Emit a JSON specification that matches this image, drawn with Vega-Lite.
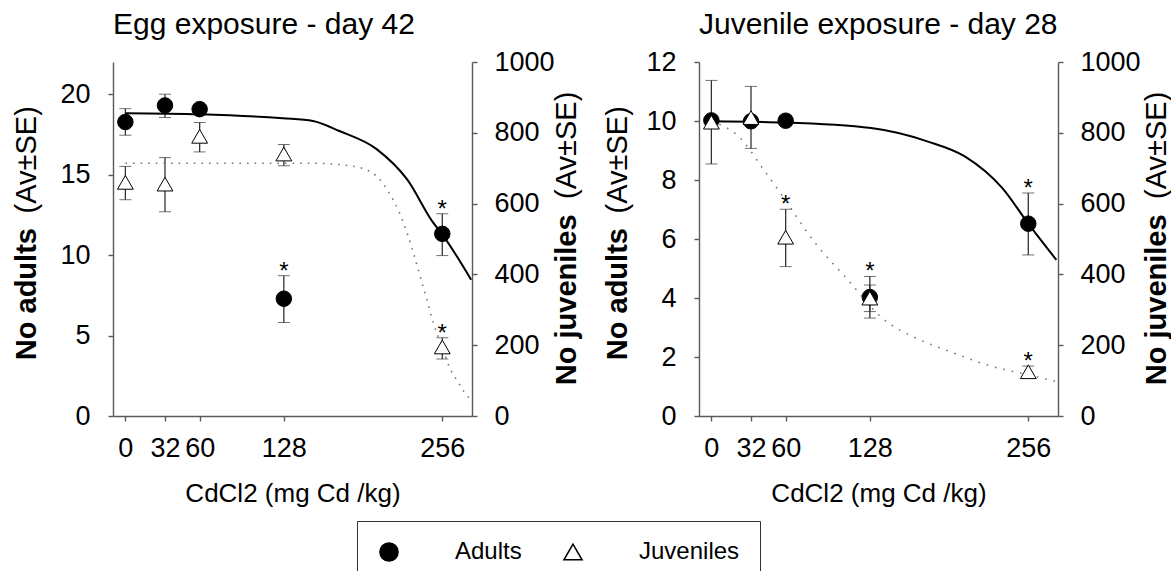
{
  "$schema": "https://vega.github.io/schema/vega-lite/v6.json",
  "background": "white",
  "autosize": {"type": "pad"},
  "padding": {"left": 12, "top": 10, "right": 0, "bottom": 0},
  "datasets": {
    "eggAdultFit": [
      {"dose": 0, "value": 18.82}, {"dose": 60, "value": 18.75}, {"dose": 127, "value": 18.5},
      {"dose": 151.5, "value": 18.34}, {"dose": 172.8, "value": 17.71}, {"dose": 203.2, "value": 16.57},
      {"dose": 227.6, "value": 14.7}, {"dose": 248.8, "value": 12.0}, {"dose": 255.5, "value": 11.34},
      {"dose": 279.3, "value": 8.47}
    ],
    "eggJuvFit": [
      {"dose": 0, "value": 714}, {"dose": 150, "value": 714}, {"dose": 185, "value": 705},
      {"dose": 191, "value": 700}, {"dose": 203, "value": 677}, {"dose": 212.4, "value": 634},
      {"dose": 221.5, "value": 573}, {"dose": 227.6, "value": 517}, {"dose": 233.6, "value": 450},
      {"dose": 239.7, "value": 375}, {"dose": 243, "value": 335}, {"dose": 248.8, "value": 262},
      {"dose": 256, "value": 195}, {"dose": 261, "value": 144}, {"dose": 268.6, "value": 97},
      {"dose": 278, "value": 50}, {"dose": 280, "value": 45}
    ],
    "eggPoints": [
      {"dose": 0, "series": "Adults", "mean": 18.27, "lo": 17.45, "hi": 19.1, "sig": ""},
      {"dose": 32, "series": "Adults", "mean": 19.3, "lo": 18.55, "hi": 20.0, "sig": ""},
      {"dose": 60, "series": "Adults", "mean": 19.07, "lo": 18.9, "hi": 19.25, "sig": ""},
      {"dose": 128, "series": "Adults", "mean": 7.29, "lo": 5.81, "hi": 8.72, "sig": "*"},
      {"dose": 256, "series": "Adults", "mean": 11.32, "lo": 9.97, "hi": 12.57, "sig": "*"},
      {"dose": 0, "series": "Juveniles", "mean": 660, "lo": 611, "hi": 705, "sig": ""},
      {"dose": 32, "series": "Juveniles", "mean": 655, "lo": 577, "hi": 730, "sig": ""},
      {"dose": 60, "series": "Juveniles", "mean": 790, "lo": 746, "hi": 829, "sig": ""},
      {"dose": 128, "series": "Juveniles", "mean": 740, "lo": 707, "hi": 767, "sig": ""},
      {"dose": 256, "series": "Juveniles", "mean": 195, "lo": 161, "hi": 221, "sig": "*"}
    ],
    "juvAdultFit": [
      {"dose": 0, "value": 9.99}, {"dose": 59.5, "value": 9.95}, {"dose": 129.1, "value": 9.76},
      {"dose": 174.4, "value": 9.31}, {"dose": 204.7, "value": 8.8}, {"dose": 234.9, "value": 7.73},
      {"dose": 256, "value": 6.52}, {"dose": 278.7, "value": 5.29}
    ],
    "juvJuvFit": [
      {"dose": 0, "value": 833}, {"dose": 23.3, "value": 785}, {"dose": 41.4, "value": 700},
      {"dose": 59.5, "value": 611}, {"dose": 83.7, "value": 489}, {"dose": 107.9, "value": 394},
      {"dose": 138.2, "value": 276}, {"dose": 168.4, "value": 215}, {"dose": 192.6, "value": 182},
      {"dose": 222.8, "value": 144}, {"dose": 256, "value": 116}, {"dose": 278.7, "value": 97}
    ],
    "juvPoints": [
      {"dose": 0, "series": "Adults", "mean": 10.02, "lo": 9.9, "hi": 10.1, "sig": ""},
      {"dose": 32, "series": "Adults", "mean": 9.99, "lo": 9.9, "hi": 10.1, "sig": ""},
      {"dose": 60, "series": "Adults", "mean": 10.01, "lo": 9.9, "hi": 10.1, "sig": ""},
      {"dose": 128, "series": "Adults", "mean": 4.03, "lo": 3.32, "hi": 4.73, "sig": "*"},
      {"dose": 256, "series": "Adults", "mean": 6.52, "lo": 5.46, "hi": 7.56, "sig": "*"},
      {"dose": 0, "series": "Juveniles", "mean": 830, "lo": 712, "hi": 948, "sig": ""},
      {"dose": 32, "series": "Juveniles", "mean": 843, "lo": 756, "hi": 931, "sig": ""},
      {"dose": 60, "series": "Juveniles", "mean": 505, "lo": 422, "hi": 584, "sig": "*"},
      {"dose": 128, "series": "Juveniles", "mean": 333, "lo": 295, "hi": 370, "sig": ""},
      {"dose": 256, "series": "Juveniles", "mean": 125, "lo": 109, "hi": 141, "sig": "*"}
    ]
  },
  "hconcat": [
    {
      "title": {"text": "Egg exposure - day 42"},
      "width": 359,
      "height": 354,
      "resolve": {"scale": {"y": "independent"}},
      "layer": [
        {
          "data": {"name": "eggPoints"},
          "transform": [{"filter": "datum.series === 'Adults'"}],
          "layer": [
            {
              "mark": {"type": "errorbar", "ticks": {"size": 12, "color": "#333333", "strokeWidth": 1.3}, "rule": {"color": "#333333", "strokeWidth": 1.3}},
              "encoding": {
                "x": {"field": "dose", "type": "quantitative", "scale": {"domain": [-10, 280], "nice": false, "zero": false}, "axis": {"values": [0, 32, 60, 128, 256], "title": "CdCl2 (mg Cd /kg)", "titleY": 85, "titleBaseline": "alphabetic"}},
                "y": {"field": "lo", "type": "quantitative", "scale": {"domain": [0, 22], "nice": false}, "axis": {"orient": "left", "domain": false, "ticks": false, "labels": false, "title": "(Av±SE)", "titleFontWeight": "normal", "titleAlign": "right", "titleX": -77.6, "titleY": 43.7}},
                "y2": {"field": "hi"}
              }
            },
            {
              "mark": {"type": "text", "fontSize": 24, "baseline": "alphabetic", "dy": 3, "color": "black"},
              "encoding": {
                "x": {"field": "dose", "type": "quantitative", "scale": {"domain": [-10, 280], "nice": false, "zero": false}, "axis": {"values": [0, 32, 60, 128, 256], "title": "CdCl2 (mg Cd /kg)", "titleY": 85, "titleBaseline": "alphabetic"}},
                "y": {"field": "hi", "type": "quantitative", "scale": {"domain": [0, 22], "nice": false}, "axis": {"orient": "left", "domain": false, "ticks": false, "labels": false, "title": "(Av±SE)", "titleFontWeight": "normal", "titleAlign": "right", "titleX": -77.6, "titleY": 43.7}},
                "text": {"field": "sig"}
              }
            }
          ]
        },
        {
          "data": {"name": "eggPoints"},
          "transform": [{"filter": "datum.series === 'Juveniles'"}],
          "layer": [
            {
              "mark": {"type": "errorbar", "ticks": {"size": 12, "color": "#333333", "strokeWidth": 1.3}, "rule": {"color": "#333333", "strokeWidth": 1.3}},
              "encoding": {
                "x": {"field": "dose", "type": "quantitative", "scale": {"domain": [-10, 280], "nice": false, "zero": false}, "axis": {"values": [0, 32, 60, 128, 256], "title": "CdCl2 (mg Cd /kg)", "titleY": 85, "titleBaseline": "alphabetic"}},
                "y": {"field": "lo", "type": "quantitative", "scale": {"domain": [0, 1000], "nice": false}, "axis": {"orient": "right", "domain": false, "ticks": false, "labels": false, "title": "(Av±SE)", "titleFontWeight": "normal", "titleAlign": "right", "titleX": 103, "titleY": 29.2}},
                "y2": {"field": "hi"}
              }
            },
            {
              "mark": {"type": "text", "fontSize": 24, "baseline": "alphabetic", "dy": 3, "color": "black"},
              "encoding": {
                "x": {"field": "dose", "type": "quantitative", "scale": {"domain": [-10, 280], "nice": false, "zero": false}, "axis": {"values": [0, 32, 60, 128, 256], "title": "CdCl2 (mg Cd /kg)", "titleY": 85, "titleBaseline": "alphabetic"}},
                "y": {"field": "hi", "type": "quantitative", "scale": {"domain": [0, 1000], "nice": false}, "axis": {"orient": "right", "domain": false, "ticks": false, "labels": false, "title": "(Av±SE)", "titleFontWeight": "normal", "titleAlign": "right", "titleX": 103, "titleY": 29.2}},
                "text": {"field": "sig"}
              }
            }
          ]
        },
        {
          "layer": [
            {
              "data": {"name": "eggAdultFit"},
              "mark": {"type": "line", "color": "black", "strokeWidth": 2, "interpolate": "monotone"},
              "encoding": {
                "x": {"field": "dose", "type": "quantitative", "scale": {"domain": [-10, 280], "nice": false, "zero": false}, "axis": {"values": [0, 32, 60, 128, 256], "title": "CdCl2 (mg Cd /kg)", "titleY": 85, "titleBaseline": "alphabetic"}},
                "y": {"field": "value", "type": "quantitative", "scale": {"domain": [0, 22], "nice": false}, "axis": {"orient": "left", "values": [0, 5, 10, 15, 20], "format": "d", "title": "No adults", "titleFontWeight": "bold", "titleAlign": "left", "titleX": -77.6, "titleY": 297.7}}
              }
            },
            {
              "data": {"name": "eggPoints"},
              "transform": [{"filter": "datum.series === 'Adults'"}],
              "mark": {"type": "point", "filled": true, "size": 240, "stroke": "black", "strokeWidth": 1, "opacity": 1},
              "encoding": {
                "x": {"field": "dose", "type": "quantitative", "scale": {"domain": [-10, 280], "nice": false, "zero": false}, "axis": {"values": [0, 32, 60, 128, 256], "title": "CdCl2 (mg Cd /kg)", "titleY": 85, "titleBaseline": "alphabetic"}},
                "y": {"field": "mean", "type": "quantitative", "scale": {"domain": [0, 22], "nice": false}, "axis": {"orient": "left", "values": [0, 5, 10, 15, 20], "format": "d", "title": "No adults", "titleFontWeight": "bold", "titleAlign": "left", "titleX": -77.6, "titleY": 297.7}},
                "shape": {"field": "series", "type": "nominal", "scale": {"domain": ["Adults", "Juveniles"], "range": ["circle", "triangle-up"]}, "legend": {
                  "orient": "none", "legendX": 244, "legendY": 459, "direction": "horizontal", "title": null,
                  "strokeColor": "#333333", "fillColor": "white", "padding": 20, "clipHeight": 22,
                  "labelFontSize": 24, "labelColor": "black", "labelOffset": 54, "columnPadding": 39,
                  "symbolSize": 330,
                  "encode": {"symbols": {
                    "fill": {"value": {"expr": "datum.value === 'Adults' ? 'black' : 'white'"}},
                    "stroke": {"value": "#222222"},
                    "strokeWidth": {"value": 1},
                    "opacity": {"value": 1}
                  }}
                }},
                "fill": {"field": "series", "type": "nominal", "scale": {"domain": ["Adults", "Juveniles"], "range": ["black", "white"]}, "legend": null}
              }
            }
          ]
        },
        {
          "layer": [
            {
              "data": {"name": "eggJuvFit"},
              "mark": {"type": "line", "color": "#777777", "strokeWidth": 1.6, "strokeDash": [1.6, 6], "interpolate": "monotone"},
              "encoding": {
                "x": {"field": "dose", "type": "quantitative", "scale": {"domain": [-10, 280], "nice": false, "zero": false}, "axis": {"values": [0, 32, 60, 128, 256], "title": "CdCl2 (mg Cd /kg)", "titleY": 85, "titleBaseline": "alphabetic"}},
                "y": {"field": "value", "type": "quantitative", "scale": {"domain": [0, 1000], "nice": false}, "axis": {"orient": "right", "values": [0, 200, 400, 600, 800, 1000], "format": "d", "title": "No juveniles", "titleFontWeight": "bold", "titleAlign": "left", "titleX": 103, "titleY": 322.7}}
              }
            },
            {
              "data": {"name": "eggPoints"},
              "transform": [{"filter": "datum.series === 'Juveniles'"}],
              "mark": {"type": "point", "filled": true, "size": 250, "stroke": "black", "strokeWidth": 1, "opacity": 1},
              "encoding": {
                "x": {"field": "dose", "type": "quantitative", "scale": {"domain": [-10, 280], "nice": false, "zero": false}, "axis": {"values": [0, 32, 60, 128, 256], "title": "CdCl2 (mg Cd /kg)", "titleY": 85, "titleBaseline": "alphabetic"}},
                "y": {"field": "mean", "type": "quantitative", "scale": {"domain": [0, 1000], "nice": false}, "axis": {"orient": "right", "values": [0, 200, 400, 600, 800, 1000], "format": "d", "title": "No juveniles", "titleFontWeight": "bold", "titleAlign": "left", "titleX": 103, "titleY": 322.7}},
                "shape": {"field": "series", "type": "nominal", "scale": {"domain": ["Adults", "Juveniles"], "range": ["circle", "triangle-up"]}},
                "fill": {"field": "series", "type": "nominal", "scale": {"domain": ["Adults", "Juveniles"], "range": ["black", "white"]}, "legend": null}
              }
            }
          ]
        }
      ]
    },
    {
      "title": {"text": "Juvenile exposure - day 28"},
      "width": 359,
      "height": 354,
      "resolve": {"scale": {"y": "independent"}},
      "layer": [
        {
          "data": {"name": "juvPoints"},
          "transform": [{"filter": "datum.series === 'Adults'"}],
          "layer": [
            {
              "mark": {"type": "errorbar", "ticks": {"size": 12, "color": "#333333", "strokeWidth": 1.3}, "rule": {"color": "#333333", "strokeWidth": 1.3}},
              "encoding": {
                "x": {"field": "dose", "type": "quantitative", "scale": {"domain": [-10, 280], "nice": false, "zero": false}, "axis": {"values": [0, 32, 60, 128, 256], "title": "CdCl2 (mg Cd /kg)", "titleY": 85, "titleBaseline": "alphabetic"}},
                "y": {"field": "lo", "type": "quantitative", "scale": {"domain": [0, 12], "nice": false}, "axis": {"orient": "left", "domain": false, "ticks": false, "labels": false, "title": "(Av±SE)", "titleFontWeight": "normal", "titleAlign": "right", "titleX": -72.3, "titleY": 43.7}},
                "y2": {"field": "hi"}
              }
            },
            {
              "mark": {"type": "text", "fontSize": 24, "baseline": "alphabetic", "dy": 3, "color": "black"},
              "encoding": {
                "x": {"field": "dose", "type": "quantitative", "scale": {"domain": [-10, 280], "nice": false, "zero": false}, "axis": {"values": [0, 32, 60, 128, 256], "title": "CdCl2 (mg Cd /kg)", "titleY": 85, "titleBaseline": "alphabetic"}},
                "y": {"field": "hi", "type": "quantitative", "scale": {"domain": [0, 12], "nice": false}, "axis": {"orient": "left", "domain": false, "ticks": false, "labels": false, "title": "(Av±SE)", "titleFontWeight": "normal", "titleAlign": "right", "titleX": -72.3, "titleY": 43.7}},
                "text": {"field": "sig"}
              }
            }
          ]
        },
        {
          "data": {"name": "juvPoints"},
          "transform": [{"filter": "datum.series === 'Juveniles'"}],
          "layer": [
            {
              "mark": {"type": "errorbar", "ticks": {"size": 12, "color": "#333333", "strokeWidth": 1.3}, "rule": {"color": "#333333", "strokeWidth": 1.3}},
              "encoding": {
                "x": {"field": "dose", "type": "quantitative", "scale": {"domain": [-10, 280], "nice": false, "zero": false}, "axis": {"values": [0, 32, 60, 128, 256], "title": "CdCl2 (mg Cd /kg)", "titleY": 85, "titleBaseline": "alphabetic"}},
                "y": {"field": "lo", "type": "quantitative", "scale": {"domain": [0, 1000], "nice": false}, "axis": {"orient": "right", "domain": false, "ticks": false, "labels": false, "title": "(Av±SE)", "titleFontWeight": "normal", "titleAlign": "right", "titleX": 107, "titleY": 29.2}},
                "y2": {"field": "hi"}
              }
            },
            {
              "mark": {"type": "text", "fontSize": 24, "baseline": "alphabetic", "dy": 3, "color": "black"},
              "encoding": {
                "x": {"field": "dose", "type": "quantitative", "scale": {"domain": [-10, 280], "nice": false, "zero": false}, "axis": {"values": [0, 32, 60, 128, 256], "title": "CdCl2 (mg Cd /kg)", "titleY": 85, "titleBaseline": "alphabetic"}},
                "y": {"field": "hi", "type": "quantitative", "scale": {"domain": [0, 1000], "nice": false}, "axis": {"orient": "right", "domain": false, "ticks": false, "labels": false, "title": "(Av±SE)", "titleFontWeight": "normal", "titleAlign": "right", "titleX": 107, "titleY": 29.2}},
                "text": {"field": "sig"}
              }
            }
          ]
        },
        {
          "layer": [
            {
              "data": {"name": "juvAdultFit"},
              "mark": {"type": "line", "color": "black", "strokeWidth": 2, "interpolate": "monotone"},
              "encoding": {
                "x": {"field": "dose", "type": "quantitative", "scale": {"domain": [-10, 280], "nice": false, "zero": false}, "axis": {"values": [0, 32, 60, 128, 256], "title": "CdCl2 (mg Cd /kg)", "titleY": 85, "titleBaseline": "alphabetic"}},
                "y": {"field": "value", "type": "quantitative", "scale": {"domain": [0, 12], "nice": false}, "axis": {"orient": "left", "values": [0, 2, 4, 6, 8, 10, 12], "format": "d", "title": "No adults", "titleFontWeight": "bold", "titleAlign": "left", "titleX": -72.3, "titleY": 297.7}}
              }
            },
            {
              "data": {"name": "juvPoints"},
              "transform": [{"filter": "datum.series === 'Adults'"}],
              "mark": {"type": "point", "filled": true, "size": 240, "stroke": "black", "strokeWidth": 1, "opacity": 1},
              "encoding": {
                "x": {"field": "dose", "type": "quantitative", "scale": {"domain": [-10, 280], "nice": false, "zero": false}, "axis": {"values": [0, 32, 60, 128, 256], "title": "CdCl2 (mg Cd /kg)", "titleY": 85, "titleBaseline": "alphabetic"}},
                "y": {"field": "mean", "type": "quantitative", "scale": {"domain": [0, 12], "nice": false}, "axis": {"orient": "left", "values": [0, 2, 4, 6, 8, 10, 12], "format": "d", "title": "No adults", "titleFontWeight": "bold", "titleAlign": "left", "titleX": -72.3, "titleY": 297.7}},
                "shape": {"field": "series", "type": "nominal", "scale": {"domain": ["Adults", "Juveniles"], "range": ["circle", "triangle-up"]}},
                "fill": {"field": "series", "type": "nominal", "scale": {"domain": ["Adults", "Juveniles"], "range": ["black", "white"]}, "legend": null}
              }
            }
          ]
        },
        {
          "layer": [
            {
              "data": {"name": "juvJuvFit"},
              "mark": {"type": "line", "color": "#777777", "strokeWidth": 1.6, "strokeDash": [1.6, 7], "interpolate": "monotone"},
              "encoding": {
                "x": {"field": "dose", "type": "quantitative", "scale": {"domain": [-10, 280], "nice": false, "zero": false}, "axis": {"values": [0, 32, 60, 128, 256], "title": "CdCl2 (mg Cd /kg)", "titleY": 85, "titleBaseline": "alphabetic"}},
                "y": {"field": "value", "type": "quantitative", "scale": {"domain": [0, 1000], "nice": false}, "axis": {"orient": "right", "values": [0, 200, 400, 600, 800, 1000], "format": "d", "title": "No juveniles", "titleFontWeight": "bold", "titleAlign": "left", "titleX": 107, "titleY": 322.7}}
              }
            },
            {
              "data": {"name": "juvPoints"},
              "transform": [{"filter": "datum.series === 'Juveniles'"}],
              "mark": {"type": "point", "filled": true, "size": 250, "stroke": "black", "strokeWidth": 1, "opacity": 1},
              "encoding": {
                "x": {"field": "dose", "type": "quantitative", "scale": {"domain": [-10, 280], "nice": false, "zero": false}, "axis": {"values": [0, 32, 60, 128, 256], "title": "CdCl2 (mg Cd /kg)", "titleY": 85, "titleBaseline": "alphabetic"}},
                "y": {"field": "mean", "type": "quantitative", "scale": {"domain": [0, 1000], "nice": false}, "axis": {"orient": "right", "values": [0, 200, 400, 600, 800, 1000], "format": "d", "title": "No juveniles", "titleFontWeight": "bold", "titleAlign": "left", "titleX": 107, "titleY": 322.7}},
                "shape": {"field": "series", "type": "nominal", "scale": {"domain": ["Adults", "Juveniles"], "range": ["circle", "triangle-up"]}},
                "fill": {"field": "series", "type": "nominal", "scale": {"domain": ["Adults", "Juveniles"], "range": ["black", "white"]}, "legend": null}
              }
            }
          ]
        }
      ]
    }
  ],
  "spacing": 227,
  "bounds": "flush",
  "resolve": {"scale": {"shape": "shared", "fill": "shared"}, "legend": {"shape": "shared"}},
  "config": {
    "font": "Liberation Sans",
    "view": {"stroke": null},
    "axis": {
      "grid": false,
      "domainColor": "#595959", "domainWidth": 1.4,
      "tickColor": "#595959", "tickWidth": 1.4, "tickSize": 5,
      "labelColor": "black", "labelFont": "Liberation Sans", "labelFontSize": 27,
      "labelFlush": false, "labelOverlap": false, "labelBound": false,
      "titleColor": "black", "titleFont": "Liberation Sans", "titleFontSize": 29,
      "titleAngle": 270, "titleBaseline": "alphabetic"
    },
    "axisX": {"labelPadding": 14, "labelFontSize": 27, "titleFontSize": 26, "titleFontWeight": "normal", "titleAngle": 0},
    "axisLeft": {"labelPadding": 18},
    "axisRight": {"labelPadding": 17},
    "legend": {"labelFont": "Liberation Sans"},
    "title": {"anchor": "start", "frame": "group", "fontSize": 30, "fontWeight": "normal", "color": "black", "font": "Liberation Sans", "baseline": "alphabetic", "offset": 8}
  }
}
